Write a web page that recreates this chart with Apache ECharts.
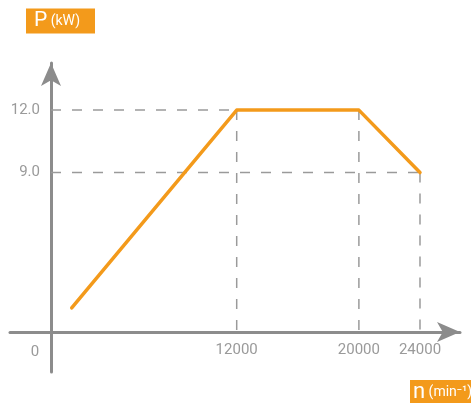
<!DOCTYPE html>
<html><head><meta charset="utf-8">
<script src="https://cdn.jsdelivr.net/npm/echarts@6/dist/echarts.min.js"></script>
<style>html,body{margin:0;padding:0;background:#fff}#c{width:471px;height:403px}</style>
</head><body><div id="c"></div>
<script>
// data
const speed = [1200, 12000, 20000, 24000];
const power = [2.5, 12, 12, 9];
const xTickValues = [12000, 20000, 24000];
const yTickValues = [9, 12];
const yTickLabels = ['9.0', '12.0'];
// horizontal guides: [power value, speed where guide ends]
const guideH = [[12, 12000], [9, 24000]];
// vertical guides: [speed, power]
const guideV = [[12000, 12], [20000, 12], [24000, 9]];

const ORANGE = '#F39A1B';
const AXIS = '#8c8c8c';
const GUIDE = '#9a9a9a';
const TEXT = '#9a9a9a';
const FONT = 'Roboto, "Liberation Sans", sans-serif';

const X_MIN = -2841, X_MAX = 26619;
const Y_MIN = -0.582, Y_MAX = 14.264;
const X_AT_YAXIS = -157;   // speed value where the vertical axis line sits
const Y_AT_XAXIS = 1.341;  // power value where the horizontal axis line sits

const dash = {type: [10, 11], color: GUIDE, width: 1.5};
const series = [];
guideH.forEach(g => series.push({
  type: 'line', data: [[X_AT_YAXIS, g[0]], [g[1], g[0]]], symbol: 'none', silent: true,
  lineStyle: dash, z: 1, animation: false
}));
guideV.forEach(g => series.push({
  type: 'line', data: [[g[0], g[1]], [g[0], Y_AT_XAXIS]], symbol: 'none', silent: true,
  lineStyle: dash, z: 1, animation: false
}));
series.push({
  type: 'line', data: speed.map((s, i) => [s, power[i]]), symbol: 'none', z: 5,
  lineStyle: {color: ORANGE, width: 3.5, cap: 'round', join: 'round'}, animation: false
});

const chart = echarts.init(document.getElementById('c'));
chart.setOption({
  animation: false,
  title: [{
    text: '{a|P}{b| (kW)}', left: 26, top: 8, backgroundColor: ORANGE, padding: [2, 15, 2, 8],
    textStyle: {fontWeight: 'normal', rich: {
      a: {fontSize: 21, color: '#fff', fontFamily: FONT, fontWeight: 'normal', lineHeight: 22},
      b: {fontSize: 14, color: '#fff', fontFamily: FONT, fontWeight: 'normal', lineHeight: 22}
    }}
  }, {
    text: '{a|n}{b| (min⁻¹)}', left: 410, top: 380, backgroundColor: ORANGE, padding: [1, 10, 3, 3],
    textStyle: {fontWeight: 'normal', rich: {
      a: {fontSize: 22, color: '#fff', fontFamily: FONT, fontWeight: 'normal', lineHeight: 22},
      b: {fontSize: 14, color: '#fff', fontFamily: FONT, fontWeight: 'normal', lineHeight: 22}
    }}
  }],
  grid: {left: 10, right: 11, top: 63, bottom: 31, containLabel: false, outerBoundsMode: 'none'},
  xAxis: {
    type: 'value', min: X_MIN, max: X_MAX, position: 'bottom', offset: -40,
    axisLine: {onZero: false, symbol: ['none', 'arrow'], symbolSize: [15, 23], lineStyle: {color: AXIS, width: 3}},
    axisTick: {show: false}, splitLine: {show: false},
    axisLabel: {customValues: xTickValues, color: TEXT, fontSize: 15, fontFamily: FONT, margin: 11,
      formatter: v => String(v)}
  },
  yAxis: {
    type: 'value', min: Y_MIN, max: Y_MAX, position: 'left', offset: -41,
    axisLine: {onZero: false, show: true, symbol: ['none', 'arrow'], symbolSize: [15, 23], lineStyle: {color: AXIS, width: 3}},
    axisTick: {show: false}, splitLine: {show: false},
    axisLabel: {customValues: yTickValues, color: TEXT, fontSize: 15, fontFamily: FONT, margin: 11,
      formatter: v => yTickLabels[yTickValues.indexOf(v)]}
  },
  graphic: [{type: 'text', x: 35, y: 352, style: {text: '0', fill: TEXT, font: '15px ' + FONT, align: 'center', verticalAlign: 'middle'}}],
  series: series
});
</script></body></html>
